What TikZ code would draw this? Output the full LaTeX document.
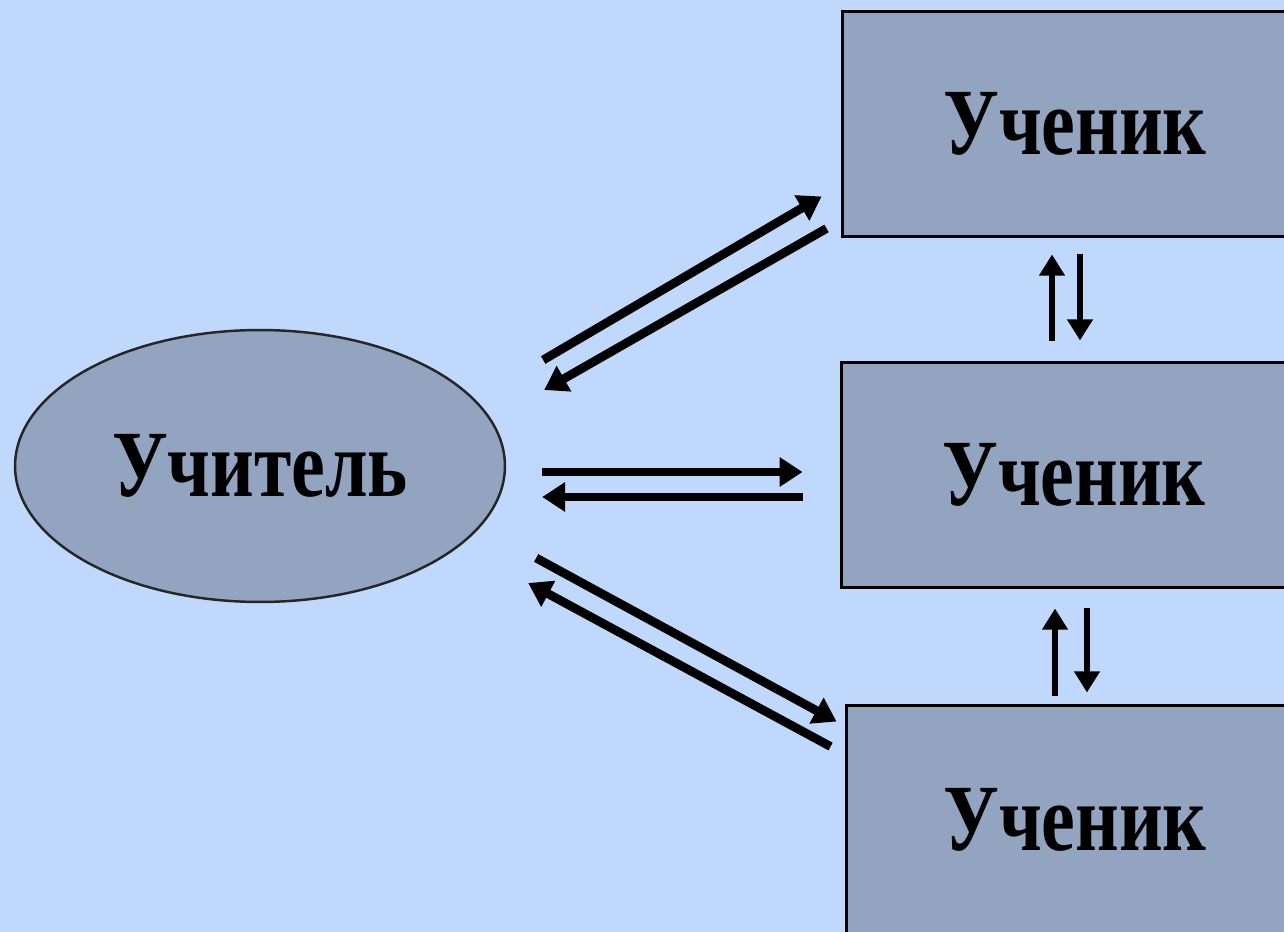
\documentclass[tikz,border=0pt]{standalone}
\usepackage{fontspec}
\usepackage{graphicx}
\setmainfont{Liberation Serif}
\usetikzlibrary{arrows.meta,shapes.geometric}
\definecolor{bgblue}{HTML}{C0D8FC}
\definecolor{boxgrey}{HTML}{92A4C0}
\newcommand{\narrowtext}[1]{\scalebox{0.8}[1]{#1}}

\begin{document}
\begin{tikzpicture}[x=0.02cm,y=-0.02cm,
	pupilbox/.style={draw=black,line width=1.7pt,fill=boxgrey,minimum width=9.32cm,minimum height=4.52cm,inner sep=0pt},
	bigarrow/.style={line width=5pt,-{Triangle[length=13pt,width=16pt]}},
	smallarrow/.style={line width=3.8pt,-{Triangle[length=12pt,width=14pt]}}]
	\tikzstyle{every node}+=[font=\fontsize{54}{54}\selectfont\bfseries]
	\useasboundingbox (0,0) rectangle (1284,932);
	\clip (0,0) rectangle (1284,932);
	\fill [bgblue] (0,0) rectangle (1284,932);
	% teacher and pupils
	\node [ellipse,draw=black!85,line width=1.4pt,fill=boxgrey,minimum width=9.8cm,minimum height=5.44cm,inner sep=0pt] (teacher) at (260,466) {\narrowtext{Учитель}};
	\node [pupilbox] (pupil1) at (1075,124) {\narrowtext{Ученик}};
	\node [pupilbox] (pupil2) at (1074,475) {\narrowtext{Ученик}};
	\node [pupilbox,minimum width=9.16cm,minimum height=4.6cm] (pupil3) at (1075,820) {\narrowtext{Ученик}};
	% teacher <-> pupils
	\draw [bigarrow] ([shift={(37,-106)}]teacher.east) -- ([shift={(-19,-42)}]pupil1.south west);
	\draw [bigarrow] ([shift={(-14,-10)}]pupil1.south west) -- ([shift={(38,-76)}]teacher.east);
	\draw [bigarrow] ([shift={(36,6)}]teacher.east) -- ([shift={(-37,-3)}]pupil2.west);
	\draw [bigarrow] ([shift={(-37,22)}]pupil2.west) -- ([shift={(36,31)}]teacher.east);
	\draw [bigarrow] ([shift={(30,92)}]teacher.east) -- ([shift={(-8,18)}]pupil3.north west);
	\draw [bigarrow] ([shift={(-14,43)}]pupil3.north west) -- ([shift={(22,117)}]teacher.east);
	% pupil <-> pupil
	\draw [smallarrow] ([shift={(-22,-20)}]pupil2.north) -- ([shift={(-23,16)}]pupil1.south);
	\draw [smallarrow] ([shift={(5,16)}]pupil1.south) -- ([shift={(6,-20)}]pupil2.north);
	\draw [smallarrow] ([shift={(-20,-8)}]pupil3.north) -- ([shift={(-19,19)}]pupil2.south);
	\draw [smallarrow] ([shift={(13,19)}]pupil2.south) -- ([shift={(12,-11)}]pupil3.north);
\end{tikzpicture}
\end{document}
